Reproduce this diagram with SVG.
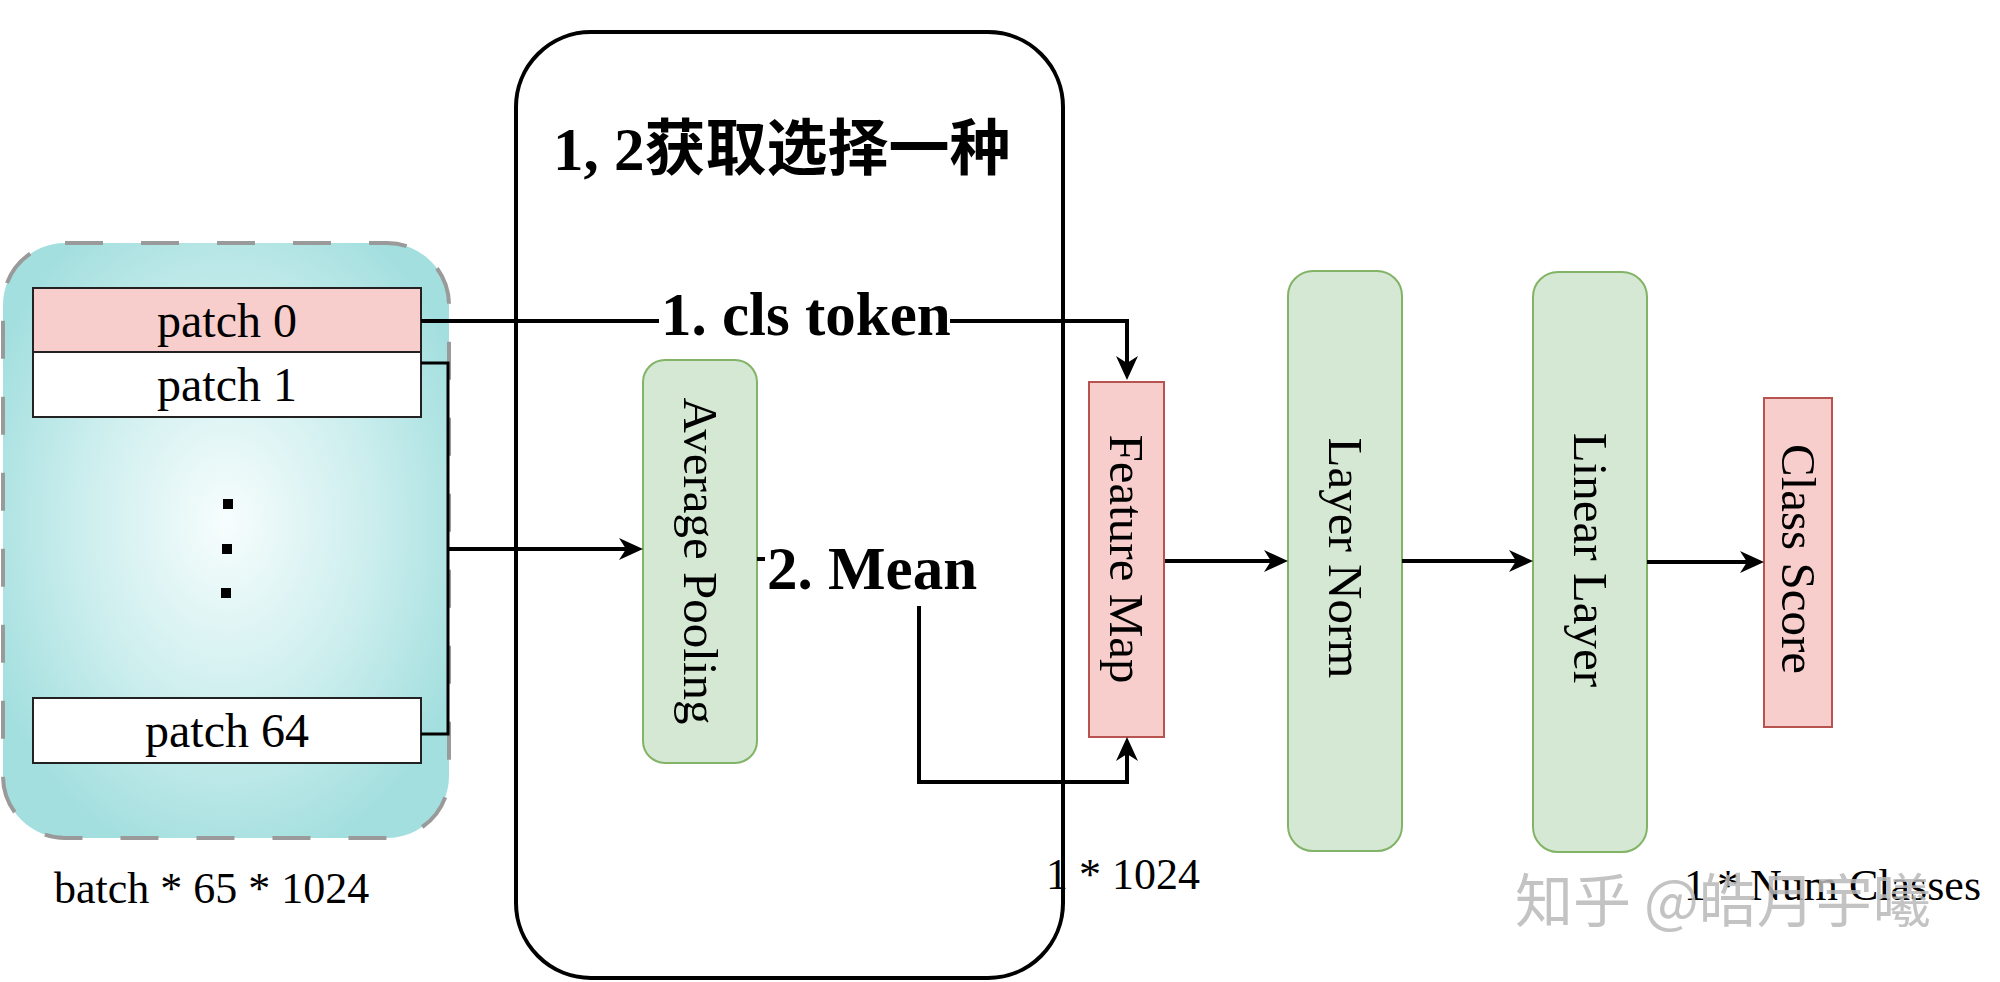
<svg xmlns="http://www.w3.org/2000/svg" width="2000" height="982" viewBox="0 0 2000 982">
<defs>
<radialGradient id="teal" cx="0.5" cy="0.47" r="0.58">
<stop offset="0" stop-color="#f7fdfd"/>
<stop offset="0.55" stop-color="#cdeeee"/>
<stop offset="1" stop-color="#a4dfdf"/>
</radialGradient>
<marker id="arr" markerUnits="userSpaceOnUse" markerWidth="24" markerHeight="22" refX="7" refY="11" orient="auto" overflow="visible">
<path d="M0,0 L24,11 L0,22 L7,11 Z" fill="#000"/>
</marker>
<style>
.t{font-family:"Liberation Serif","Times New Roman",serif;font-size:48px;fill:#000}
.r{font-size:49px}
.s{font-size:44px}
.b{font-family:"Liberation Serif","Times New Roman","Noto Sans CJK SC",serif;font-weight:bold;font-size:61px;fill:#000}
.cjk{font-family:"Noto Sans CJK SC",sans-serif;font-weight:bold}
.green{fill:#d5e8d4;stroke:#82b366;stroke-width:2}
.pink{fill:#f8cecc;stroke:#b85450;stroke-width:2}
.ln{fill:none;stroke:#000;stroke-width:4}
.rot{text-anchor:middle;dominant-baseline:central}
</style>
</defs>
<g id="choice-box">
<rect x="516" y="32" width="547" height="946" rx="75" ry="75" fill="#fff" stroke="#000" stroke-width="4"/>
<text class="b" x="553" y="170"><tspan>1, 2</tspan><tspan class="cjk">获取选择一种</tspan></text>
</g>
<g id="batch">
<rect x="3" y="243" width="446" height="595" rx="62" ry="62" fill="url(#teal)" stroke="#9a9a9a" stroke-width="4" stroke-dasharray="38 38"/>
<g id="patch0">
<rect x="33" y="288" width="388" height="64" fill="#f8cecc" stroke="#222" stroke-width="2"/>
<text class="t" x="227" y="337" text-anchor="middle">patch 0</text>
</g>
<g id="patch1">
<rect x="33" y="352" width="388" height="65" fill="#fff" stroke="#222" stroke-width="2"/>
<text class="t" x="227" y="401" text-anchor="middle">patch 1</text>
</g>
<g id="dots" fill="#000">
<rect x="223" y="499" width="10" height="10"/>
<rect x="222" y="544" width="10" height="10"/>
<rect x="221" y="588" width="10" height="10"/>
</g>
<g id="patch64">
<rect x="33" y="698" width="388" height="65" fill="#fff" stroke="#222" stroke-width="2"/>
<text class="t" x="227" y="747" text-anchor="middle">patch 64</text>
</g>
<text class="t s" x="54" y="903">batch * 65 * 1024</text>
</g>
<g id="avg-pooling">
<rect class="green" x="643" y="360" width="114" height="403" rx="22" ry="22"/>
<text class="t r rot" transform="rotate(90 700 561)" x="700" y="561">Average Pooling</text>
</g>
<g id="feature-map">
<rect class="pink" x="1089" y="382" width="75" height="355"/>
<text class="t r rot" transform="rotate(90 1126 559)" x="1126" y="559">Feature Map</text>
</g>
<g id="layer-norm">
<rect class="green" x="1288" y="271" width="114" height="580" rx="25" ry="25"/>
<text class="t r rot" transform="rotate(90 1345 558)" x="1345" y="558">Layer Norm</text>
</g>
<g id="linear-layer">
<rect class="green" x="1533" y="272" width="114" height="580" rx="25" ry="25"/>
<text class="t r rot" transform="rotate(90 1590 560)" x="1590" y="560">Linear Layer</text>
</g>
<g id="class-score">
<rect class="pink" x="1764" y="398" width="68" height="329"/>
<text class="t r rot" transform="rotate(90 1798 559)" x="1798" y="559">Class Score</text>
</g>
<g id="connectors">
<path d="M421,363 H448 V734 H421" fill="none" stroke="#000" stroke-width="3"/>
<path class="ln" d="M448,549 H626" stroke-width="3" marker-end="url(#arr)"/>
<path class="ln" d="M421,321 H1127 V363" marker-end="url(#arr)"/>
<path class="ln" d="M757,559 H919 V782 H1127 V754" marker-end="url(#arr)"/>
<path class="ln" d="M1165,561 H1271" marker-end="url(#arr)"/>
<path class="ln" d="M1402,561 H1516" marker-end="url(#arr)"/>
<path class="ln" d="M1647,562 H1747" marker-end="url(#arr)"/>
<rect x="659" y="285" width="291" height="62" fill="#fff"/>
<text class="b" x="661" y="335">1. cls token</text>
<rect x="765" y="518" width="213" height="88" fill="#fff"/>
<text class="b" x="767" y="589">2. Mean</text>
</g>
<g id="labels">
<text class="t s" x="1046" y="889">1 * 1024</text>
<text class="t s" x="1684" y="900">1 * Num Classes</text>
<text x="1515" y="922" font-family="Noto Sans CJK SC,sans-serif" font-size="58" fill="#b8b8b8" fill-opacity="0.85">知乎 @皓月宇曦</text>
</g>
</svg>
